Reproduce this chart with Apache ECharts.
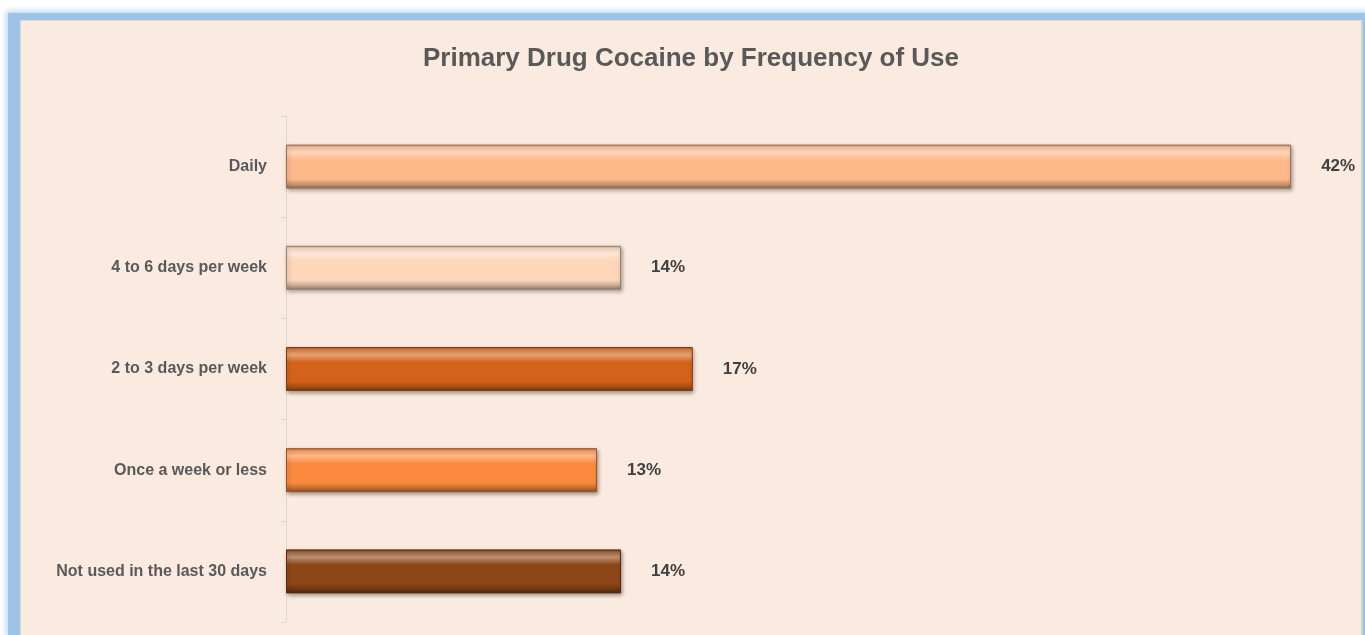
<!DOCTYPE html>
<html>
<head>
<meta charset="utf-8">
<script src="https://cdn.jsdelivr.net/npm/echarts@6/dist/echarts.min.js"></script>
<style>
  html, body { margin: 0; padding: 0; background: #fff; width: 1365px; height: 635px; overflow: hidden; }
  .frame {
    position: absolute; left: 8px; top: 13px; width: 1357px; height: 622px;
    background: #9DC3E6; box-shadow: 0 0 6px 2px #bcd6ee;
  }
  #chart {
    position: absolute; left: 20px; top: 20px; width: 1343px; height: 615px;
    background: #FBEAE0; border-left: 1px solid #d8d8d8; border-top: 1px solid #d8d8d8; border-right: 2px solid #d0d0d0;
    box-sizing: border-box;
  }
</style>
</head>
<body>
<div class="frame"></div>
<div id="chart"></div>
<script>
  // categories, top to bottom
  var categories = ['Daily', '4 to 6 days per week', '2 to 3 days per week', 'Once a week or less', 'Not used in the last 30 days'];
  // percent
  var values = [42, 14, 17, 13, 14];
  // base colour of each bar
  var barColors = ['#FDB98A', '#FDD6B9', '#D4621A', '#FB8A3E', '#8D4617'];

  function shade(hex, amt) {
    var n = parseInt(hex.slice(1), 16);
    var r = (n >> 16) & 255, g = (n >> 8) & 255, b = n & 255;
    function f(c) {
      return Math.max(0, Math.min(255, Math.round(amt > 0 ? c + (255 - c) * amt : c * (1 + amt))));
    }
    return 'rgb(' + f(r) + ',' + f(g) + ',' + f(b) + ')';
  }

  var chart = echarts.init(document.getElementById('chart'));

  var option = {
    backgroundColor: 'transparent',
    title: {
      text: 'Primary Drug Cocaine by Frequency of Use',
      left: 'center',
      top: 20,
      textStyle: { fontFamily: 'Liberation Sans', fontWeight: 'bold', fontSize: 26, color: '#595959' }
    },
    grid: { left: 265, right: 22, top: 95, bottom: 13, containLabel: false },
    xAxis: {
      type: 'value', min: 0, max: 44,
      show: false
    },
    yAxis: {
      type: 'category',
      inverse: true,
      data: categories,
      axisLine: { show: true, lineStyle: { color: '#D9D9D9', width: 1 } },
      axisTick: { show: true, length: 5, lineStyle: { color: '#D9D9D9' } },
      axisLabel: {
        margin: 19,
        fontFamily: 'Liberation Sans', fontWeight: 'bold', fontSize: 16, color: '#595959'
      }
    },
    series: [{
      type: 'bar',
      barWidth: 44,
      data: values.map(function (v, i) {
        var c = barColors[i];
        return {
          value: v,
          itemStyle: {
            color: new echarts.graphic.LinearGradient(0, 0, 0, 1, [
              { offset: 0, color: shade(c, -0.25) },
              { offset: 0.06, color: shade(c, 0.2) },
              { offset: 0.18, color: shade(c, 0.4) },
              { offset: 0.35, color: c },
              { offset: 0.78, color: c },
              { offset: 0.9, color: shade(c, -0.2) },
              { offset: 1, color: shade(c, -0.45) }
            ]),
            borderColor: shade(c, -0.4),
            borderWidth: 1,
            shadowColor: 'rgba(0,0,0,0.35)',
            shadowBlur: 4,
            shadowOffsetX: 1,
            shadowOffsetY: 2
          }
        };
      }),
      label: {
        show: true,
        position: 'right',
        distance: 30,
        formatter: '{c}%',
        fontFamily: 'Liberation Sans', fontWeight: 'bold', fontSize: 17, color: '#404040'
      }
    }]
  };

  chart.setOption(option);
</script>
</body>
</html>
